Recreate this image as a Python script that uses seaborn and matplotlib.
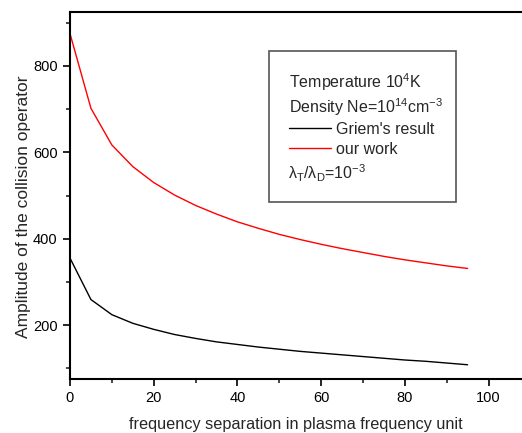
import numpy as np
import pandas as pd
import matplotlib
matplotlib.use("Agg")
import matplotlib.pyplot as plt
import seaborn as sns
from matplotlib.patches import Rectangle

freq = [0, 5, 10, 15, 20, 25, 30, 35, 40, 45, 50, 55, 60, 65, 70, 75, 80, 85, 90, 95]
griem = [355, 259, 224, 204, 190, 178, 169, 161, 155, 149, 144, 139, 135, 131, 127, 123, 119, 116, 112, 108]
ours = [875, 702, 617, 567, 530, 501, 477, 457, 439, 424, 410, 398, 387, 377, 368, 359, 351, 344, 337, 331]
series_names = ["Griem's result", "our work"]
x_ticks = [0, 20, 40, 60, 80, 100]
y_ticks = [200, 400, 600, 800]

df = pd.DataFrame({
    "freq": freq + freq,
    "amp": griem + ours,
    "series": [series_names[0]] * len(freq) + [series_names[1]] * len(freq),
})

sns.set_theme(style="ticks")
plt.rcParams["font.family"] = ["Liberation Sans", "DejaVu Sans"]
plt.rcParams["mathtext.fontset"] = "custom"
plt.rcParams["mathtext.rm"] = "Liberation Sans"
plt.rcParams["mathtext.it"] = "Liberation Sans:italic"

W, H = 522, 433
fig = plt.figure(figsize=(W / 100, H / 100), dpi=100)
L, R, T, B = 70, 522, 12, 379
ax = fig.add_axes([L / W, 1 - B / H, (R - L) / W, (B - T) / H])

sns.lineplot(data=df, x="freq", y="amp", hue="series",
             palette={series_names[0]: "black", series_names[1]: "red"},
             linewidth=1.0, ax=ax, legend=True)

ax.set_xlim(0, 108)
ax.set_ylim(75, 925)
ax.set_xticks(x_ticks)
ax.set_yticks(y_ticks)
ax.set_xticks(np.arange(10, 108, 20), minor=True)
ax.set_yticks(np.arange(100, 925, 200), minor=True)
ax.tick_params(axis="both", which="major", direction="out", length=5, width=1.2,
               labelsize=10.5, colors="black", pad=4)
ax.tick_params(axis="both", which="minor", direction="out", length=3, width=1.2)
for s in ["left", "bottom", "top"]:
    ax.spines[s].set_linewidth(1.5)
    ax.spines[s].set_color("black")
ax.spines["right"].set_visible(False)

ax.set_xlabel("frequency separation in plasma frequency unit", fontsize=11.7, labelpad=8)
ax.set_ylabel("Amplitude of the collision operator", fontsize=12.5, labelpad=5)
ax.yaxis.set_label_coords(-0.086, 0.47)


def fx(px):
    return (px - L) / (R - L)


def fy(py):
    return (B - py) / (B - T)


# box
ax.add_patch(Rectangle((fx(269), fy(202)), fx(456) - fx(269), fy(51) - fy(202),
                       transform=ax.transAxes, facecolor="white",
                       edgecolor="#555555", linewidth=1.2, zorder=3))
fs = 11.5
ax.text(fx(289), fy(82), "Temperature 10$^{4}$K", transform=ax.transAxes,
        fontsize=fs, va="center", ha="left", zorder=4)
ax.text(fx(289), fy(107), "Density Ne=10$^{14}$cm$^{-3}$", transform=ax.transAxes,
        fontsize=fs, va="center", ha="left", zorder=4)
ax.text(fx(288), fy(173), "λ$_{\\mathrm{T}}$/λ$_{\\mathrm{D}}$=10$^{-3}$", transform=ax.transAxes,
        fontsize=fs, va="center", ha="left", zorder=4)

handles, labels = ax.get_legend_handles_labels()
leg = ax.legend(handles, labels, loc="upper left",
                bbox_to_anchor=(fx(289), fy(122)), bbox_transform=ax.transAxes,
                frameon=False, fontsize=fs, handlelength=2.6, handletextpad=0.35,
                borderpad=0, borderaxespad=0, labelspacing=0.3)
leg.set_zorder(5)

fig.savefig("out.png", dpi=100)
